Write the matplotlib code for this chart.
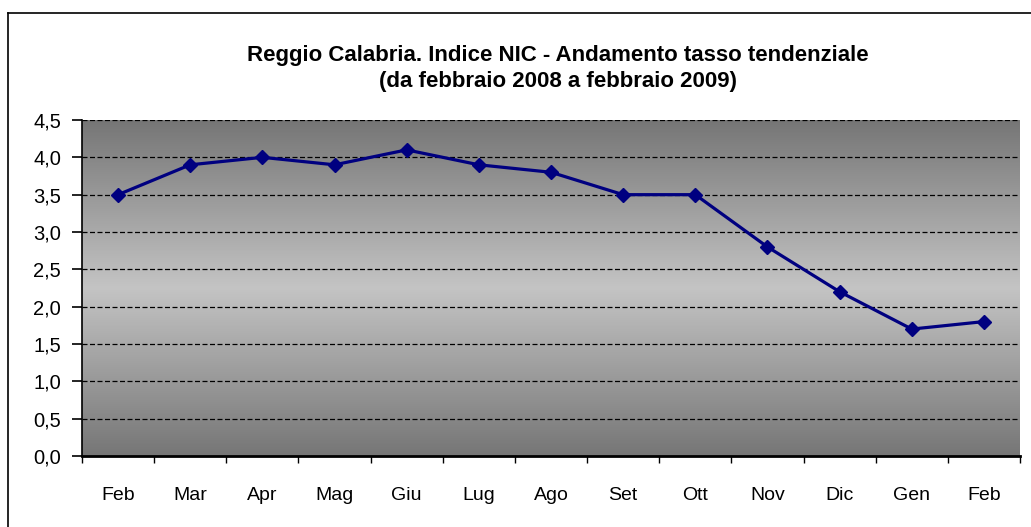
import numpy as np
import matplotlib
matplotlib.use('Agg')
import matplotlib.pyplot as plt
from matplotlib.ticker import FuncFormatter
from matplotlib.colors import LinearSegmentedColormap

plt.rcParams['font.family'] = ['Liberation Sans', 'DejaVu Sans']

mesi = ['Feb', 'Mar', 'Apr', 'Mag', 'Giu', 'Lug', 'Ago', 'Set', 'Ott', 'Nov', 'Dic', 'Gen', 'Feb']
tasso = [3.5, 3.9, 4.0, 3.9, 4.1, 3.9, 3.8, 3.5, 3.5, 2.8, 2.2, 1.7, 1.8]
yticks = [0.0, 0.5, 1.0, 1.5, 2.0, 2.5, 3.0, 3.5, 4.0, 4.5]

W, H = 1031, 527
fig = plt.figure(figsize=(W / 100, H / 100), dpi=100)

# frame round the chart (only left and top edges are visible)
fig.add_artist(plt.Line2D([8 / W, 8 / W], [0, 1 - 13 / H], color='black', lw=1.2))
fig.add_artist(plt.Line2D([8 / W, 1], [1 - 13 / H, 1 - 13 / H], color='black', lw=1.2))

left, right, top, bottom = 82, 1020, 120, 456
ax = fig.add_axes([left / W, 1 - bottom / H, (right - left) / W, (bottom - top) / H])

# vertical gradient: dark at top and bottom, light in the middle
cmap = LinearSegmentedColormap.from_list('g', ['#767676', '#c4c4c4', '#767676'])
grad = np.linspace(0, 1, 256).reshape(-1, 1)
ax.imshow(grad, cmap=cmap, aspect='auto', extent=[0, 1, 0, 1],
          transform=ax.transAxes, zorder=0)

x = np.arange(len(mesi))
ax.set_xlim(-0.5, len(mesi) - 0.5)
ax.set_ylim(0, 4.5)

for v in yticks[1:]:
    ax.axhline(v, color='black', lw=0.9, ls=(0, (4, 2)), zorder=1)

ax.plot(x, tasso, color='#000080', lw=2.3, marker='D', markersize=7.5, zorder=3)

ax.set_yticks(yticks)
ax.yaxis.set_major_formatter(FuncFormatter(lambda v, p: f'{v:.1f}'.replace('.', ',')))
ax.set_xticks(x)
ax.set_xticklabels(mesi)
ax.set_xticks(np.arange(-0.5, len(mesi)), minor=True)
ax.tick_params(axis='x', which='major', length=0, pad=22, labelsize=14)
ax.tick_params(axis='x', which='minor', length=5, width=1)
ax.tick_params(axis='y', length=7, width=1.2, pad=8, labelsize=14.5)

for s in ['top', 'right']:
    ax.spines[s].set_visible(False)
ax.spines['left'].set_linewidth(1.2)
ax.spines['bottom'].set_linewidth(2)

fig.text(558 / W, 1 - 55 / H,
         'Reggio Calabria. Indice NIC - Andamento tasso tendenziale',
         ha='center', va='center', fontsize=16, fontweight='bold')
fig.text(558 / W, 1 - 81 / H,
         '(da febbraio 2008 a febbraio 2009)',
         ha='center', va='center', fontsize=16, fontweight='bold')

fig.savefig('out.png', dpi=100)
